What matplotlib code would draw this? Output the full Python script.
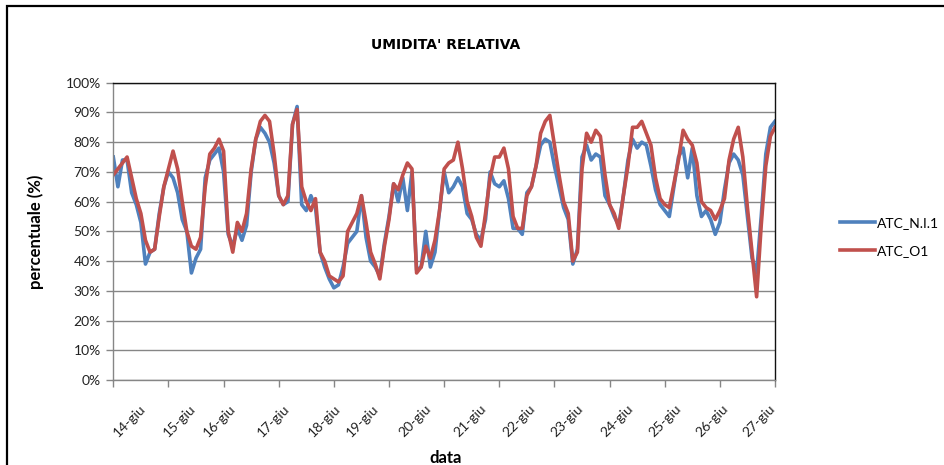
import numpy as np
import matplotlib
matplotlib.use("Agg")
from matplotlib import pyplot as plt
from matplotlib.patches import Rectangle

# umidita' relativa (%) per campione, due sensori
atc_ni1 = [75, 65, 74, 74, 63, 59, 53, 39, 43, 44,
           56, 65, 70, 68, 63, 54, 50, 36, 41, 44,
           68, 74, 76, 78, 70, 49, 45, 51, 47, 52,
           70, 81, 85, 83, 80, 73, 62, 59, 60, 86,
           92, 59, 57, 62, 58, 43, 38, 34, 31, 32,
           38, 46, 48, 50, 62, 48, 40, 38, 35, 46,
           55, 66, 60, 68, 57, 70, 37, 38, 50, 38,
           43, 57, 70, 63, 65, 68, 65, 56, 54, 49,
           47, 54, 70, 66, 65, 67, 61, 51, 51, 49,
           63, 65, 72, 79, 81, 80, 72, 65, 58, 54,
           39, 44, 75, 79, 74, 76, 75, 62, 59, 55,
           52, 62, 74, 81, 78, 80, 79, 72, 64, 59,
           57, 55, 65, 75, 78, 68, 78, 62, 55, 57,
           54, 49, 53, 64, 73, 76, 74, 69, 55, 41,
           36, 55, 76, 85, 87]

atc_o1 = [69, 71, 73, 75, 68, 61, 56, 47, 43, 44,
          55, 65, 71, 77, 71, 60, 50, 45, 44, 48,
          65, 76, 78, 81, 77, 50, 43, 53, 50, 56,
          71, 81, 87, 89, 87, 76, 62, 59, 62, 86,
          91, 65, 60, 57, 61, 43, 40, 35, 34, 33,
          35, 50, 53, 56, 62, 53, 43, 39, 34, 45,
          54, 66, 64, 69, 73, 71, 36, 38, 45, 41,
          47, 57, 71, 73, 74, 80, 71, 60, 55, 48,
          45, 56, 68, 75, 75, 78, 71, 55, 51, 51,
          62, 65, 72, 83, 87, 89, 79, 69, 60, 56,
          40, 43, 71, 83, 80, 84, 82, 69, 59, 56,
          51, 62, 72, 85, 85, 87, 83, 79, 68, 61,
          59, 58, 66, 74, 84, 81, 79, 73, 60, 58,
          57, 54, 57, 61, 74, 81, 85, 75, 58, 43,
          28, 52, 72, 82, 85]

date_labels = ['14-giu', '15-giu', '16-giu', '17-giu', '18-giu', '19-giu', '20-giu',
               '21-giu', '22-giu', '23-giu', '24-giu', '25-giu', '26-giu', '27-giu']
# campione a cui cade ciascuna etichetta di data
label_pos = [5.6, 16.5, 25.2, 37.1, 48.0, 56.3, 67.8,
             79.8, 90.5, 100.9, 111.8, 122.3, 132.5, 142.7]

BLUE = '#4F81BD'
RED = '#C0504D'
GRID = '#868686'

plt.rcParams['font.family'] = ['Lato', 'DejaVu Sans']

x = np.arange(len(atc_o1))

fig = plt.figure(figsize=(9.45, 4.65), dpi=100)
fig.patches.append(Rectangle((7 / 945, -0.1), 1.0, 1.1 - 6 / 465,
                             transform=fig.transFigure, fill=False,
                             edgecolor='black', linewidth=1.6))

ax = fig.add_axes([113.3 / 945, 85 / 465, 661.7 / 945, 297.3 / 465])
ax.plot(x, atc_ni1, color=BLUE, linewidth=2.6, label='ATC_N.I.1', solid_joinstyle='round')
ax.plot(x, atc_o1, color=RED, linewidth=2.6, label='ATC_O1', solid_joinstyle='round')

ax.set_xlim(0, len(x) - 1)
ax.set_ylim(0, 100)

yt = np.arange(0, 101, 10)
ax.set_yticks(yt)
ax.set_yticklabels([f'{v}%' for v in yt], fontsize=10, color='#222222')
ax.yaxis.grid(True, color=GRID, linewidth=1.0)
ax.set_axisbelow(True)

ax.xaxis.remove_overlapping_locs = False
ax.set_xticks(np.arange(0, len(x), 12))
ax.set_xticklabels([])
ax.set_xticks(label_pos, minor=True)
ax.set_xticklabels(date_labels, minor=True, rotation=45, ha='right', va='top',
                   rotation_mode='anchor', fontsize=10, color='#222222')
ax.tick_params(axis='x', which='minor', length=0, pad=16)
ax.tick_params(axis='both', which='major', direction='out', length=5,
               color=GRID, width=1.0)
ax.tick_params(axis='y', pad=4)

for side in ['left', 'bottom']:
    ax.spines[side].set_color(GRID)
    ax.spines[side].set_linewidth(1.0)
for side in ['top', 'right']:
    ax.spines[side].set_color('#111111')
    ax.spines[side].set_linewidth(1.0)

ax.set_ylabel('percentuale (%)', fontsize=12, fontweight='bold')
ax.yaxis.set_label_coords(-0.104, 0.5)
ax.set_xlabel('data', fontsize=12, fontweight='bold')
ax.xaxis.set_label_coords(0.502, -0.237)

fig.text(446 / 945, 1 - 45 / 465, "UMIDITA' RELATIVA", ha='center', va='center',
         fontsize=10, fontweight='bold',
         family=['Liberation Sans Narrow', 'DejaVu Sans'])

ax.legend(loc='center left', bbox_to_anchor=(828 / 945, 1 - 237 / 465),
          bbox_transform=fig.transFigure, frameon=False, fontsize=10,
          handlelength=2.5, labelspacing=1.15, handletextpad=0.15)

fig.savefig('out.png', dpi=100)
